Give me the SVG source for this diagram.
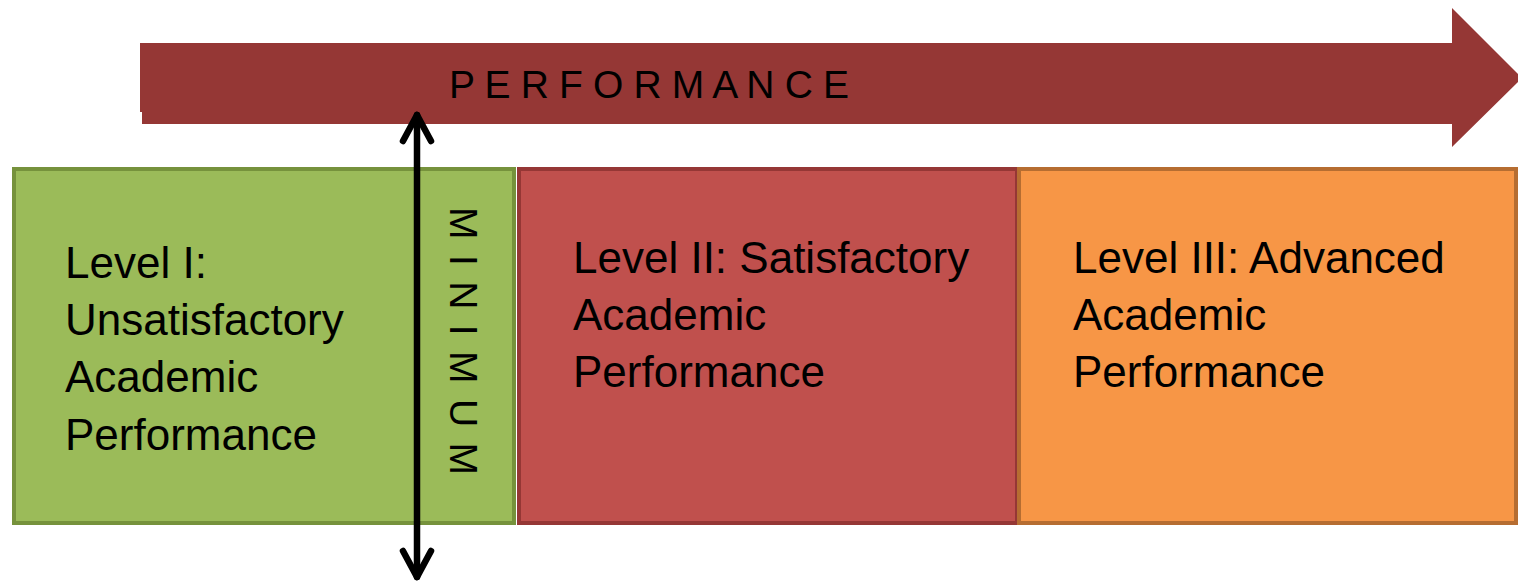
<svg xmlns="http://www.w3.org/2000/svg" width="1518" height="584" viewBox="0 0 1518 584">
<style>
  .lbl { font-family: "Liberation Sans", Arial, sans-serif; fill: #000; }
  .box { font-size: 44px; }
  .cap { font-size: 39px; }
  .conn { stroke: #000; stroke-width: 6.5; fill: none; stroke-linecap: round; stroke-linejoin: round; }
</style>
<rect width="1518" height="584" fill="#fff"/>
<g id="performance-arrow">
  <polygon points="140,43 1452,43 1452,8 1522,78 1452,147 1452,124 142,124 142,112 140,112" fill="#953735"/>
  <text class="lbl cap" x="449" y="98" textLength="400" lengthAdjust="spacing">P E R F O R M A N C E</text>
</g>
<g id="level1">
  <rect x="14" y="169" width="500" height="354" fill="#9BBB59" stroke="#76923C" stroke-width="4"/>
  <text class="lbl box" x="65" y="278">Level I:</text>
  <text class="lbl box" x="65" y="335">Unsatisfactory</text>
  <text class="lbl box" x="65" y="392">Academic</text>
  <text class="lbl box" x="65" y="450">Performance</text>
</g>
<g id="level2">
  <rect x="519" y="169" width="498" height="354" fill="#C0504D" stroke="#953735" stroke-width="4"/>
  <text class="lbl box" x="573" y="273">Level II: Satisfactory</text>
  <text class="lbl box" x="573" y="330">Academic</text>
  <text class="lbl box" x="573" y="387">Performance</text>
</g>
<g id="level3">
  <rect x="1019" y="169" width="497" height="354" fill="#F79646" stroke="#B66D31" stroke-width="4"/>
  <text class="lbl box" x="1073" y="273">Level III: Advanced</text>
  <text class="lbl box" x="1073" y="330">Academic</text>
  <text class="lbl box" x="1073" y="387">Performance</text>
</g>
<g id="connectors">
  <line class="conn" x1="417" y1="115" x2="417" y2="577"/>
  <polyline class="conn" points="403,141 417,115 431,141"/>
  <polyline class="conn" points="403,551 417,577 431,551"/>
</g>
<g id="minimum">
  <text class="lbl cap" transform="translate(450,207) rotate(90)" x="0" y="0" textLength="268" lengthAdjust="spacing">M I N I M U M</text>
</g>
</svg>
